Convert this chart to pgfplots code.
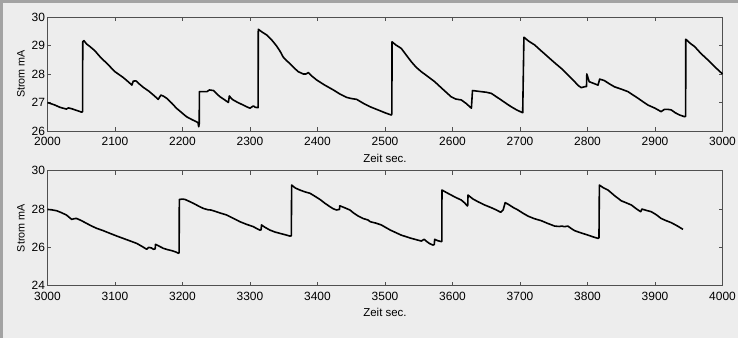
\documentclass[border=0pt]{standalone}
\usepackage{pgfplots}
\pgfplotsset{compat=1.18}
\usepackage{fontspec}
\setmainfont{Liberation Sans}
\definecolor{bgc}{HTML}{EDEDED}
\definecolor{framec}{HTML}{A3A3A3}
\definecolor{axc}{HTML}{505050}
\newcommand{\ff}{\fontsize{12}{14}\selectfont}
\newcommand{\fx}{\fontsize{11.5}{13}\selectfont}
\newcommand{\fy}{\fontsize{10.8}{12}\selectfont}
\begin{document}
\begin{tikzpicture}
\path[use as bounding box] (0,0) rectangle (738bp,338bp);
\fill[bgc] (0,0) rectangle (738bp,338bp);
\fill[framec] (0,335bp) rectangle (738bp,338bp);
\fill[framec] (0,0) rectangle (3bp,338bp);
\pgfplotsset{
  myax/.style={
    scale only axis, width=675bp,
    axis line style={axc, line width=0.6pt},
    tick style={axc, line width=0.6pt},
    tick align=inside, major tick length=4bp,
    xtick distance=100,
    xlabel={Zeit sec.}, ylabel={Strom mA},
    every tick label/.append style={font=\ff},
    xticklabel style={yshift=-3bp},
    yticklabel style={xshift=1bp},
    xlabel style={font=\fx, yshift=-1bp},
    ylabel style={font=\fy, yshift=0bp},
    /pgf/number format/assume math mode=true,
    /pgf/number format/1000 sep={},
    axis background/.style={fill=bgc},
    clip=false,
  },
  trace/.style={black, line width=1.6bp, line join=round},
}
\begin{axis}[myax, at={(47.5bp,207bp)}, anchor=south west, height=114bp,
  xmin=2000, xmax=3000, ymin=26, ymax=30, ytick={26,27,28,29,30}]
\addplot[trace] coordinates {
(2000,27.0)(2010,26.92)(2018.5,26.83)(2028,26.77)(2031,26.81)(2036,26.78)(2041,26.74)(2046,26.70)(2050.6,26.66)
(2052,26.68)(2052.2,29.13)(2054,29.17)(2058,29.05)(2063,28.96)(2070,28.82)(2078,28.6)(2088,28.37)(2100,28.08)(2112,27.88)
(2120,27.72)(2125,27.61)(2127,27.75)(2131,27.76)(2136,27.65)(2142,27.53)(2150,27.40)(2158,27.24)(2164,27.11)(2168,27.26)(2172,27.22)(2176.5,27.15)
(2184,26.98)(2191,26.8)(2198,26.66)(2206,26.5)(2214,26.40)(2221,26.32)(2223,26.29)(2224,26.15)(2224.8,26.25)(2225,27.38)
(2230,27.38)(2236,27.38)(2240,27.44)(2246,27.42)(2250,27.32)(2255.6,27.2)(2262,27.10)(2268,27.0)(2269.4,27.23)(2272,27.15)
(2275,27.09)(2282,27.0)(2290,26.91)(2296,26.84)(2300,26.8)(2305,26.88)(2308,26.83)(2312,26.82)(2312.3,29.57)
(2318,29.47)(2324.7,29.37)(2332,29.2)(2339.5,28.98)(2345,28.78)(2349,28.6)(2354,28.47)(2359,28.37)(2365,28.22)(2371.6,28.08)
(2379,28.0)(2383,28.0)(2386.4,28.05)(2392,27.92)(2398.8,27.79)(2410,27.62)(2423.5,27.44)(2433,27.30)(2443,27.18)
(2450,27.14)(2458,27.11)(2468,26.97)(2478,26.85)(2489.6,26.74)(2500,26.64)(2509.4,26.56)(2510.2,26.6)(2510.4,29.13)
(2516,29.02)(2524,28.9)(2531,28.68)(2539,28.43)(2546,28.24)(2553.8,28.08)(2563,27.92)(2573.6,27.73)(2585,27.48)(2598,27.2)
(2605,27.12)(2613,27.09)(2620,26.97)(2628,26.8)(2629.6,27.42)(2636,27.40)(2642.7,27.38)(2650,27.36)(2657.5,27.32)(2665,27.2)
(2672,27.09)(2680,26.96)(2687,26.85)(2695,26.74)(2704,26.64)(2705.8,29.29)(2713,29.15)(2721.7,29.02)(2731,28.82)(2741.5,28.6)
(2751,28.4)(2761,28.2)(2771,27.97)(2781,27.73)(2786,27.6)(2790.8,27.52)(2795,27.55)(2798.5,27.56)(2799,28.0)(2802.5,27.73)
(2808,27.68)(2815.6,27.61)(2818,27.82)(2825,27.77)(2832,27.66)(2840,27.55)(2850,27.47)(2860,27.38)(2867,27.27)(2874.8,27.15)
(2882,27.03)(2889.6,26.91)(2900,26.8)(2909,26.68)(2914,26.76)(2919,26.76)(2924,26.74)(2930,26.64)(2936.6,26.56)(2944,26.5)(2945.4,26.52)
(2945.6,29.22)(2952,29.08)(2958.8,28.96)(2968,28.72)(2978.5,28.49)(2990,28.22)(3000,28.0)
};
\end{axis}
\begin{axis}[myax, at={(47.5bp,52.3bp)}, anchor=south west, height=115bp,
  xmin=3000, xmax=4000, ymin=24, ymax=30, ytick={24,26,28,30}]
\addplot[trace] coordinates {
(3000,27.98)(3006,27.96)(3013.6,27.91)(3020,27.82)(3028,27.69)(3035.8,27.46)(3040,27.5)(3043,27.51)(3050,27.40)(3058,27.25)
(3065,27.12)(3073,26.99)(3082,26.88)(3092.6,26.73)(3102,26.60)(3112,26.47)(3122,26.34)(3132,26.21)(3140,26.05)(3147,25.9)
(3150,26.0)(3154,25.97)(3157,25.9)(3159.5,25.92)(3160,26.16)(3165,26.07)(3171.6,25.95)(3178,25.88)(3184,25.83)(3190,25.76)(3194,25.69)
(3195,25.72)(3195.3,28.5)(3200,28.52)(3203.7,28.5)(3210,28.4)(3216,28.3)(3224,28.15)(3231,28.03)(3238,27.96)(3242,27.95)
(3245.7,27.91)(3255,27.8)(3265.4,27.69)(3275,27.52)(3285,27.34)(3295,27.2)(3305,27.08)(3310,26.98)(3314.8,26.9)(3316.5,26.92)
(3317,27.17)(3322,27.05)(3329.6,26.9)(3337,26.8)(3344.4,26.73)(3352,26.66)(3359,26.59)(3361.2,26.6)(3361.7,29.25)(3367,29.1)
(3374,28.99)(3381,28.9)(3389,28.82)(3396,28.67)(3403.7,28.5)(3411,28.3)(3418.5,28.12)(3423,28.02)(3428,27.95)(3432.5,27.98)(3433,28.17)
(3440,28.07)(3448,27.95)(3454,27.78)(3460.5,27.63)(3468,27.5)(3474.8,27.43)(3478,27.34)(3486,27.27)(3494.5,27.17)(3508,26.9)
(3524,26.64)(3538,26.48)(3553.8,26.33)(3558,26.42)(3562,26.3)(3566,26.2)(3571,26.12)(3573,26.15)(3573.6,26.42)(3578,26.35)
(3583.4,26.3)(3584.2,26.32)(3584.4,28.99)(3590,28.88)(3598,28.73)(3605,28.6)(3613,28.47)(3618,28.32)(3622,28.16)(3622.6,28.2)
(3623,28.73)(3630,28.53)(3637.8,28.38)(3647,28.22)(3657.5,28.07)(3665,27.95)(3671.4,27.83)(3675,27.95)(3678,28.33)(3682,28.26)
(3690,28.08)(3697,27.95)(3704,27.79)(3711.9,27.63)(3721,27.5)(3731.6,27.39)(3741,27.25)(3751.4,27.11)(3758,27.09)(3762,27.11)
(3766,27.08)(3771,27.11)(3776,26.98)(3781,26.87)(3790,26.76)(3800.7,26.64)(3808,26.55)(3815.6,26.47)(3817,26.5)(3817.6,29.25)
(3823,29.12)(3830.4,28.99)(3840,28.7)(3850,28.43)(3857,28.33)(3865,28.21)(3872,28.02)(3878.8,27.86)(3880.7,28.0)(3887,27.93)
(3894.5,27.86)(3902,27.7)(3909,27.51)(3916,27.40)(3924,27.29)(3933,27.12)(3941.5,26.94)
};
\end{axis}
\end{tikzpicture}
\end{document}
